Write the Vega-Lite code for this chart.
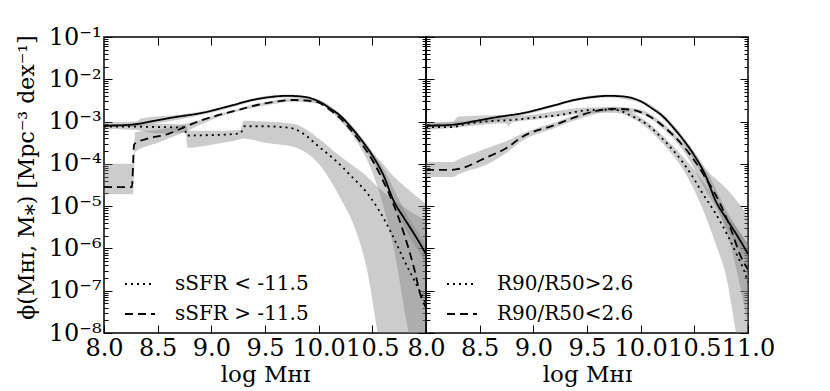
{
  "$schema": "https://vega.github.io/schema/vega-lite/v6.json",
  "background": "white",
  "padding": {"left": 14, "top": 24, "right": 0, "bottom": 0},
  "bounds": "flush",
  "spacing": 0,
  "config": {
    "view": {"stroke": "black", "strokeWidth": 1.5},
    "font": "DejaVu Serif",
    "axis": {"grid": false, "domain": false, "tickColor": "black", "tickWidth": 1, "labelColor": "black", "titleColor": "black", "labelFont": "DejaVu Serif", "titleFont": "DejaVu Serif", "labelFontSize": 24, "titleFontSize": 23, "titleFontWeight": "normal", "labelFlush": false, "labelOverlap": false, "labelBound": false}
  },
  "datasets": {
    "lines": [
      {"p":"L","s":"total","x":8.0,"y":8.04e-4},{"p":"L","s":"total","x":8.15,"y":8.13e-4},{"p":"L","s":"total","x":8.3,"y":8.71e-4},{"p":"L","s":"total","x":8.45,"y":1.02e-3},{"p":"L","s":"total","x":8.65,"y":1.26e-3},{"p":"L","s":"total","x":8.9,"y":1.58e-3},{"p":"L","s":"total","x":9.2,"y":2.45e-3},{"p":"L","s":"total","x":9.4,"y":3.31e-3},{"p":"L","s":"total","x":9.55,"y":3.80e-3},{"p":"L","s":"total","x":9.7,"y":4.07e-3},{"p":"L","s":"total","x":9.85,"y":3.89e-3},{"p":"L","s":"total","x":10.0,"y":3.02e-3},{"p":"L","s":"total","x":10.1,"y":2.09e-3},{"p":"L","s":"total","x":10.2,"y":1.38e-3},{"p":"L","s":"total","x":10.3,"y":7.41e-4},{"p":"L","s":"total","x":10.4,"y":3.63e-4},{"p":"L","s":"total","x":10.5,"y":1.58e-4},{"p":"L","s":"total","x":10.6,"y":5.62e-5},{"p":"L","s":"total","x":10.7,"y":1.32e-5},{"p":"L","s":"total","x":10.8,"y":5.01e-6},{"p":"L","s":"total","x":10.9,"y":2.00e-6},{"p":"L","s":"total","x":11.0,"y":7.41e-7},
      {"p":"L","s":"sSFR < -11.5","x":8.0,"y":7.59e-4},{"p":"L","s":"sSFR < -11.5","x":8.25,"y":7.59e-4},{"p":"L","s":"sSFR < -11.5","x":8.5,"y":7.41e-4},{"p":"L","s":"sSFR < -11.5","x":8.75,"y":7.24e-4},{"p":"L","s":"sSFR < -11.5","x":8.77,"y":4.68e-4},{"p":"L","s":"sSFR < -11.5","x":9.0,"y":4.79e-4},{"p":"L","s":"sSFR < -11.5","x":9.27,"y":5.25e-4},{"p":"L","s":"sSFR < -11.5","x":9.31,"y":7.76e-4},{"p":"L","s":"sSFR < -11.5","x":9.5,"y":7.76e-4},{"p":"L","s":"sSFR < -11.5","x":9.65,"y":7.41e-4},{"p":"L","s":"sSFR < -11.5","x":9.77,"y":6.76e-4},{"p":"L","s":"sSFR < -11.5","x":9.88,"y":4.68e-4},{"p":"L","s":"sSFR < -11.5","x":9.99,"y":2.69e-4},{"p":"L","s":"sSFR < -11.5","x":10.14,"y":1.32e-4},{"p":"L","s":"sSFR < -11.5","x":10.3,"y":5.25e-5},{"p":"L","s":"sSFR < -11.5","x":10.46,"y":1.91e-5},{"p":"L","s":"sSFR < -11.5","x":10.55,"y":8.91e-6},{"p":"L","s":"sSFR < -11.5","x":10.67,"y":2.51e-6},{"p":"L","s":"sSFR < -11.5","x":10.8,"y":5.01e-7},{"p":"L","s":"sSFR < -11.5","x":10.89,"y":1.78e-7},{"p":"L","s":"sSFR < -11.5","x":10.97,"y":7.08e-8},{"p":"L","s":"sSFR < -11.5","x":11.0,"y":5.01e-8},
      {"p":"L","s":"sSFR > -11.5","x":8.0,"y":2.82e-5},{"p":"L","s":"sSFR > -11.5","x":8.26,"y":2.82e-5},{"p":"L","s":"sSFR > -11.5","x":8.28,"y":2.82e-4},{"p":"L","s":"sSFR > -11.5","x":8.3,"y":3.16e-4},{"p":"L","s":"sSFR > -11.5","x":8.37,"y":3.72e-4},{"p":"L","s":"sSFR > -11.5","x":8.6,"y":5.13e-4},{"p":"L","s":"sSFR > -11.5","x":8.75,"y":7.41e-4},{"p":"L","s":"sSFR > -11.5","x":8.9,"y":1.05e-3},{"p":"L","s":"sSFR > -11.5","x":9.2,"y":1.74e-3},{"p":"L","s":"sSFR > -11.5","x":9.5,"y":2.69e-3},{"p":"L","s":"sSFR > -11.5","x":9.77,"y":3.24e-3},{"p":"L","s":"sSFR > -11.5","x":9.99,"y":2.88e-3},{"p":"L","s":"sSFR > -11.5","x":10.09,"y":2.0e-3},{"p":"L","s":"sSFR > -11.5","x":10.2,"y":1.20e-3},{"p":"L","s":"sSFR > -11.5","x":10.3,"y":6.31e-4},{"p":"L","s":"sSFR > -11.5","x":10.39,"y":3.24e-4},{"p":"L","s":"sSFR > -11.5","x":10.52,"y":1.0e-4},{"p":"L","s":"sSFR > -11.5","x":10.6,"y":3.98e-5},{"p":"L","s":"sSFR > -11.5","x":10.69,"y":1.23e-5},{"p":"L","s":"sSFR > -11.5","x":10.8,"y":2.04e-6},{"p":"L","s":"sSFR > -11.5","x":10.89,"y":3.31e-7},{"p":"L","s":"sSFR > -11.5","x":10.95,"y":7.76e-8},{"p":"L","s":"sSFR > -11.5","x":11.0,"y":3.98e-8},
      {"p":"R","s":"total","x":8.0,"y":8.04e-4},{"p":"R","s":"total","x":8.15,"y":8.13e-4},{"p":"R","s":"total","x":8.3,"y":8.71e-4},{"p":"R","s":"total","x":8.45,"y":1.02e-3},{"p":"R","s":"total","x":8.65,"y":1.26e-3},{"p":"R","s":"total","x":8.9,"y":1.58e-3},{"p":"R","s":"total","x":9.2,"y":2.45e-3},{"p":"R","s":"total","x":9.4,"y":3.31e-3},{"p":"R","s":"total","x":9.55,"y":3.80e-3},{"p":"R","s":"total","x":9.7,"y":4.07e-3},{"p":"R","s":"total","x":9.85,"y":3.89e-3},{"p":"R","s":"total","x":10.0,"y":3.02e-3},{"p":"R","s":"total","x":10.1,"y":2.09e-3},{"p":"R","s":"total","x":10.2,"y":1.38e-3},{"p":"R","s":"total","x":10.3,"y":7.41e-4},{"p":"R","s":"total","x":10.4,"y":3.63e-4},{"p":"R","s":"total","x":10.5,"y":1.58e-4},{"p":"R","s":"total","x":10.6,"y":5.62e-5},{"p":"R","s":"total","x":10.7,"y":1.32e-5},{"p":"R","s":"total","x":10.8,"y":5.01e-6},{"p":"R","s":"total","x":10.9,"y":2.00e-6},{"p":"R","s":"total","x":11.0,"y":7.41e-7},
      {"p":"R","s":"R90/R50>2.6","x":8.0,"y":7.41e-4},{"p":"R","s":"R90/R50>2.6","x":8.25,"y":7.41e-4},{"p":"R","s":"R90/R50>2.6","x":8.35,"y":8.51e-4},{"p":"R","s":"R90/R50>2.6","x":8.58,"y":1.02e-3},{"p":"R","s":"R90/R50>2.6","x":8.76,"y":1.07e-3},{"p":"R","s":"R90/R50>2.6","x":9.04,"y":1.26e-3},{"p":"R","s":"R90/R50>2.6","x":9.26,"y":1.45e-3},{"p":"R","s":"R90/R50>2.6","x":9.44,"y":1.78e-3},{"p":"R","s":"R90/R50>2.6","x":9.51,"y":1.86e-3},{"p":"R","s":"R90/R50>2.6","x":9.75,"y":1.91e-3},{"p":"R","s":"R90/R50>2.6","x":9.91,"y":1.38e-3},{"p":"R","s":"R90/R50>2.6","x":10.07,"y":8.13e-4},{"p":"R","s":"R90/R50>2.6","x":10.22,"y":3.55e-4},{"p":"R","s":"R90/R50>2.6","x":10.38,"y":1.20e-4},{"p":"R","s":"R90/R50>2.6","x":10.5,"y":4.27e-5},{"p":"R","s":"R90/R50>2.6","x":10.57,"y":2.14e-5},{"p":"R","s":"R90/R50>2.6","x":10.69,"y":7.24e-6},{"p":"R","s":"R90/R50>2.6","x":10.81,"y":2.04e-6},{"p":"R","s":"R90/R50>2.6","x":10.9,"y":6.76e-7},{"p":"R","s":"R90/R50>2.6","x":10.96,"y":3.16e-7},{"p":"R","s":"R90/R50>2.6","x":11.0,"y":1.58e-7},
      {"p":"R","s":"R90/R50<2.6","x":8.0,"y":7.24e-5},{"p":"R","s":"R90/R50<2.6","x":8.24,"y":7.24e-5},{"p":"R","s":"R90/R50<2.6","x":8.58,"y":1.48e-4},{"p":"R","s":"R90/R50<2.6","x":8.76,"y":2.45e-4},{"p":"R","s":"R90/R50<2.6","x":8.89,"y":4.27e-4},{"p":"R","s":"R90/R50<2.6","x":9.19,"y":8.13e-4},{"p":"R","s":"R90/R50<2.6","x":9.44,"y":1.41e-3},{"p":"R","s":"R90/R50<2.6","x":9.6,"y":1.82e-3},{"p":"R","s":"R90/R50<2.6","x":9.75,"y":2.0e-3},{"p":"R","s":"R90/R50<2.6","x":9.91,"y":1.91e-3},{"p":"R","s":"R90/R50<2.6","x":10.07,"y":1.38e-3},{"p":"R","s":"R90/R50<2.6","x":10.22,"y":7.41e-4},{"p":"R","s":"R90/R50<2.6","x":10.38,"y":2.95e-4},{"p":"R","s":"R90/R50<2.6","x":10.5,"y":1.20e-4},{"p":"R","s":"R90/R50<2.6","x":10.6,"y":4.90e-5},{"p":"R","s":"R90/R50<2.6","x":10.75,"y":1.02e-5},{"p":"R","s":"R90/R50<2.6","x":10.84,"y":2.88e-6},{"p":"R","s":"R90/R50<2.6","x":10.93,"y":6.76e-7},{"p":"R","s":"R90/R50<2.6","x":11.0,"y":3.16e-7}
    ],
    "bands": [
      {"p":"L","s":"total","x":8.0,"lo":7.59e-4,"hi":9.55e-4},{"p":"L","s":"total","x":8.3,"lo":7.59e-4,"hi":1.0e-3},{"p":"L","s":"total","x":8.35,"lo":7.94e-4,"hi":1.20e-3},{"p":"L","s":"total","x":8.7,"lo":1.12e-3,"hi":1.45e-3},{"p":"L","s":"total","x":9.0,"lo":1.62e-3,"hi":1.91e-3},{"p":"L","s":"total","x":9.5,"lo":3.39e-3,"hi":3.98e-3},{"p":"L","s":"total","x":9.7,"lo":3.72e-3,"hi":4.37e-3},{"p":"L","s":"total","x":10.0,"lo":2.75e-3,"hi":3.24e-3},{"p":"L","s":"total","x":10.2,"lo":1.20e-3,"hi":1.55e-3},{"p":"L","s":"total","x":10.4,"lo":3.02e-4,"hi":4.27e-4},{"p":"L","s":"total","x":10.6,"lo":3.98e-5,"hi":7.94e-5},{"p":"L","s":"total","x":10.8,"lo":3.16e-6,"hi":7.94e-6},{"p":"L","s":"total","x":11.0,"lo":4.47e-7,"hi":1.26e-6},
      {"p":"L","s":"sSFR < -11.5","x":8.0,"lo":6.76e-4,"hi":8.51e-4},{"p":"L","s":"sSFR < -11.5","x":8.3,"lo":6.31e-4,"hi":8.91e-4},{"p":"L","s":"sSFR < -11.5","x":8.5,"lo":5.25e-4,"hi":8.91e-4},{"p":"L","s":"sSFR < -11.5","x":8.76,"lo":5.50e-4,"hi":8.51e-4},{"p":"L","s":"sSFR < -11.5","x":8.78,"lo":2.40e-4,"hi":6.03e-4},{"p":"L","s":"sSFR < -11.5","x":9.0,"lo":2.82e-4,"hi":6.03e-4},{"p":"L","s":"sSFR < -11.5","x":9.27,"lo":3.80e-4,"hi":6.31e-4},{"p":"L","s":"sSFR < -11.5","x":9.3,"lo":3.98e-4,"hi":1.05e-3},{"p":"L","s":"sSFR < -11.5","x":9.5,"lo":3.16e-4,"hi":1.0e-3},{"p":"L","s":"sSFR < -11.5","x":9.77,"lo":2.51e-4,"hi":8.71e-4},{"p":"L","s":"sSFR < -11.5","x":10.0,"lo":1.0e-4,"hi":3.98e-4},{"p":"L","s":"sSFR < -11.5","x":10.2,"lo":1.58e-5,"hi":1.51e-4},{"p":"L","s":"sSFR < -11.5","x":10.35,"lo":2.51e-6,"hi":7.94e-5},{"p":"L","s":"sSFR < -11.5","x":10.45,"lo":3.16e-7,"hi":5.01e-5},{"p":"L","s":"sSFR < -11.5","x":10.55,"lo":1.0e-8,"hi":2.82e-5},{"p":"L","s":"sSFR < -11.5","x":10.62,"lo":1.0e-9,"hi":2.0e-5},{"p":"L","s":"sSFR < -11.5","x":11.0,"lo":3.16e-10,"hi":4.47e-6},
      {"p":"L","s":"sSFR > -11.5","x":8.0,"lo":1.91e-5,"hi":1.0e-4},{"p":"L","s":"sSFR > -11.5","x":8.27,"lo":1.91e-5,"hi":1.0e-4},{"p":"L","s":"sSFR > -11.5","x":8.29,"lo":1.91e-4,"hi":5.62e-4},{"p":"L","s":"sSFR > -11.5","x":8.5,"lo":3.16e-4,"hi":6.31e-4},{"p":"L","s":"sSFR > -11.5","x":8.75,"lo":5.62e-4,"hi":8.71e-4},{"p":"L","s":"sSFR > -11.5","x":9.0,"lo":1.10e-3,"hi":1.32e-3},{"p":"L","s":"sSFR > -11.5","x":9.5,"lo":2.40e-3,"hi":2.88e-3},{"p":"L","s":"sSFR > -11.5","x":9.77,"lo":2.95e-3,"hi":3.55e-3},{"p":"L","s":"sSFR > -11.5","x":10.0,"lo":2.63e-3,"hi":3.16e-3},{"p":"L","s":"sSFR > -11.5","x":10.2,"lo":1.05e-3,"hi":1.32e-3},{"p":"L","s":"sSFR > -11.5","x":10.3,"lo":5.37e-4,"hi":7.59e-4},{"p":"L","s":"sSFR > -11.5","x":10.5,"lo":6.31e-5,"hi":1.78e-4},{"p":"L","s":"sSFR > -11.5","x":10.58,"lo":1.58e-5,"hi":1.12e-4},{"p":"L","s":"sSFR > -11.5","x":10.7,"lo":1.0e-6,"hi":5.01e-5},{"p":"L","s":"sSFR > -11.5","x":10.84,"lo":1.0e-8,"hi":2.40e-5},{"p":"L","s":"sSFR > -11.5","x":11.0,"lo":6.31e-10,"hi":1.12e-5},
      {"p":"R","s":"total","x":8.0,"lo":7.59e-4,"hi":9.55e-4},{"p":"R","s":"total","x":8.25,"lo":7.59e-4,"hi":1.0e-3},{"p":"R","s":"total","x":8.3,"lo":7.94e-4,"hi":1.32e-3},{"p":"R","s":"total","x":8.75,"lo":1.12e-3,"hi":1.45e-3},{"p":"R","s":"total","x":9.0,"lo":1.62e-3,"hi":1.91e-3},{"p":"R","s":"total","x":9.5,"lo":3.39e-3,"hi":3.98e-3},{"p":"R","s":"total","x":9.7,"lo":3.72e-3,"hi":4.37e-3},{"p":"R","s":"total","x":10.0,"lo":2.75e-3,"hi":3.24e-3},{"p":"R","s":"total","x":10.2,"lo":1.20e-3,"hi":1.55e-3},{"p":"R","s":"total","x":10.4,"lo":3.02e-4,"hi":4.27e-4},{"p":"R","s":"total","x":10.6,"lo":3.98e-5,"hi":7.94e-5},{"p":"R","s":"total","x":10.8,"lo":3.16e-6,"hi":7.94e-6},{"p":"R","s":"total","x":11.0,"lo":4.47e-7,"hi":1.26e-6},
      {"p":"R","s":"R90/R50>2.6","x":8.0,"lo":6.31e-4,"hi":8.71e-4},{"p":"R","s":"R90/R50>2.6","x":8.3,"lo":7.24e-4,"hi":1.0e-3},{"p":"R","s":"R90/R50>2.6","x":8.6,"lo":8.71e-4,"hi":1.17e-3},{"p":"R","s":"R90/R50>2.6","x":8.74,"lo":9.12e-4,"hi":1.26e-3},{"p":"R","s":"R90/R50>2.6","x":8.77,"lo":7.94e-4,"hi":1.20e-3},{"p":"R","s":"R90/R50>2.6","x":8.8,"lo":9.55e-4,"hi":1.26e-3},{"p":"R","s":"R90/R50>2.6","x":9.0,"lo":1.10e-3,"hi":1.45e-3},{"p":"R","s":"R90/R50>2.6","x":9.5,"lo":1.58e-3,"hi":2.14e-3},{"p":"R","s":"R90/R50>2.6","x":9.75,"lo":1.62e-3,"hi":2.19e-3},{"p":"R","s":"R90/R50>2.6","x":10.0,"lo":9.12e-4,"hi":1.26e-3},{"p":"R","s":"R90/R50>2.6","x":10.2,"lo":3.16e-4,"hi":4.79e-4},{"p":"R","s":"R90/R50>2.6","x":10.4,"lo":7.08e-5,"hi":1.41e-4},{"p":"R","s":"R90/R50>2.6","x":10.55,"lo":1.26e-5,"hi":5.01e-5},{"p":"R","s":"R90/R50>2.6","x":10.7,"lo":1.26e-6,"hi":1.41e-5},{"p":"R","s":"R90/R50>2.6","x":10.8,"lo":2.0e-7,"hi":6.31e-6},{"p":"R","s":"R90/R50>2.6","x":10.89,"lo":1.0e-8,"hi":3.16e-6},{"p":"R","s":"R90/R50>2.6","x":11.0,"lo":6.31e-10,"hi":1.26e-6},
      {"p":"R","s":"R90/R50<2.6","x":8.0,"lo":4.90e-5,"hi":1.10e-4},{"p":"R","s":"R90/R50<2.6","x":8.25,"lo":4.90e-5,"hi":1.10e-4},{"p":"R","s":"R90/R50<2.6","x":8.3,"lo":5.62e-5,"hi":1.26e-4},{"p":"R","s":"R90/R50<2.6","x":8.58,"lo":1.0e-4,"hi":2.40e-4},{"p":"R","s":"R90/R50<2.6","x":8.76,"lo":1.91e-4,"hi":3.55e-4},{"p":"R","s":"R90/R50<2.6","x":8.9,"lo":3.55e-4,"hi":5.25e-4},{"p":"R","s":"R90/R50<2.6","x":9.2,"lo":7.08e-4,"hi":9.55e-4},{"p":"R","s":"R90/R50<2.6","x":9.5,"lo":1.32e-3,"hi":1.70e-3},{"p":"R","s":"R90/R50<2.6","x":9.75,"lo":1.78e-3,"hi":2.24e-3},{"p":"R","s":"R90/R50<2.6","x":10.0,"lo":1.51e-3,"hi":1.91e-3},{"p":"R","s":"R90/R50<2.6","x":10.2,"lo":7.08e-4,"hi":9.55e-4},{"p":"R","s":"R90/R50<2.6","x":10.4,"lo":2.0e-4,"hi":3.16e-4},{"p":"R","s":"R90/R50<2.6","x":10.6,"lo":2.51e-5,"hi":7.59e-5},{"p":"R","s":"R90/R50<2.6","x":10.8,"lo":2.51e-6,"hi":2.57e-5},{"p":"R","s":"R90/R50<2.6","x":11.0,"lo":1.58e-8,"hi":6.03e-6}
    ]
  },
  "resolve": {"scale": {"strokeDash": "independent"}, "legend": {"strokeDash": "independent"}},
  "hconcat": [
    {
      "width": 322, "height": 296,
      "layer": [
        {
          "data": {"name": "bands"},
          "transform": [{"filter": "datum.p === 'L'"}],
          "mark": {"type": "area", "clip": true, "interpolate": "monotone", "fill": "#7f7f7f", "opacity": 0.4},
          "encoding": {
            "x": {"field": "x", "type": "quantitative", "scale": {"domain": [8, 11], "nice": false, "zero": false},
              "axis": {"orient": "bottom", "values": [8, 8.5, 9, 9.5, 10, 10.5], "format": ".1f", "tickSize": -8, "labelPadding": 11, "title": "log Mʜɪ", "titlePadding": 3}},
            "y": {"field": "lo", "type": "quantitative", "scale": {"type": "log", "domain": [1e-8, 0.1], "nice": false},
              "axis": {"orient": "left", "values": [1e-8,2e-8,3e-8,4e-8,5e-8,6e-8,7e-8,8e-8,9e-8,1e-7,2e-7,3e-7,4e-7,5e-7,6e-7,7e-7,8e-7,9e-7,1e-6,2e-6,3e-6,4e-6,5e-6,6e-6,7e-6,8e-6,9e-6,1e-5,2e-5,3e-5,4e-5,5e-5,6e-5,7e-5,8e-5,9e-5,1e-4,2e-4,3e-4,4e-4,5e-4,6e-4,7e-4,8e-4,9e-4,1e-3,2e-3,3e-3,4e-3,5e-3,6e-3,7e-3,8e-3,9e-3,1e-2,2e-2,3e-2,4e-2,5e-2,6e-2,7e-2,8e-2,9e-2,1e-1],
                "labelExpr": "abs(log(datum.value)/LN10 - round(log(datum.value)/LN10)) < 0.01 ? '10' + ['⁰','⁻¹','⁻²','⁻³','⁻⁴','⁻⁵','⁻⁶','⁻⁷','⁻⁸'][-round(log(datum.value)/LN10)] : ''",
                "tickSize": {"condition": {"test": "abs(log(datum.value)/LN10 - round(log(datum.value)/LN10)) < 0.01", "value": -8}, "value": -4},
                "labelPadding": 11,
                "title": "ϕ(Mʜɪ, M⁎) [Mpc⁻³ dex⁻¹]", "titleFontSize": 22, "titlePadding": 10, "titleY": 140}},
            "y2": {"field": "hi"},
            "detail": {"field": "s"}
          }
        },
        {
          "data": {"name": "lines"},
          "transform": [{"filter": "datum.p === 'L'"}],
          "mark": {"type": "line", "clip": true, "interpolate": "monotone", "color": "black", "strokeWidth": 1.8},
          "encoding": {
            "x": {"field": "x", "type": "quantitative", "scale": {"domain": [8, 11], "nice": false, "zero": false},
              "axis": {"orient": "top", "values": [8.5, 9, 9.5, 10, 10.5], "labels": false, "tickSize": -8, "title": null}},
            "y": {"field": "y", "type": "quantitative", "scale": {"type": "log", "domain": [1e-8, 0.1], "nice": false},
              "axis": {"orient": "right", "values": [1e-8,2e-8,3e-8,4e-8,5e-8,6e-8,7e-8,8e-8,9e-8,1e-7,2e-7,3e-7,4e-7,5e-7,6e-7,7e-7,8e-7,9e-7,1e-6,2e-6,3e-6,4e-6,5e-6,6e-6,7e-6,8e-6,9e-6,1e-5,2e-5,3e-5,4e-5,5e-5,6e-5,7e-5,8e-5,9e-5,1e-4,2e-4,3e-4,4e-4,5e-4,6e-4,7e-4,8e-4,9e-4,1e-3,2e-3,3e-3,4e-3,5e-3,6e-3,7e-3,8e-3,9e-3,1e-2,2e-2,3e-2,4e-2,5e-2,6e-2,7e-2,8e-2,9e-2,1e-1],
                "labels": false, "title": null,
                "tickSize": {"condition": {"test": "abs(log(datum.value)/LN10 - round(log(datum.value)/LN10)) < 0.01", "value": -8}, "value": -4}}},
            "strokeDash": {"field": "s", "type": "nominal",
              "scale": {"domain": ["total", "sSFR < -11.5", "sSFR > -11.5"], "range": [[1, 0], [2, 4], [8, 5]]},
              "legend": {"title": null, "values": ["sSFR < -11.5", "sSFR > -11.5"], "orient": "none", "legendX": 20, "legendY": 231, "symbolType": "stroke", "symbolSize": 900, "symbolStrokeWidth": 1.8, "symbolStrokeColor": "black", "labelFont": "DejaVu Serif", "labelFontSize": 20, "labelColor": "black", "labelOffset": 19, "rowPadding": 4, "padding": 0}}
          }
        }
      ],
      "resolve": {"scale": {"x": "independent", "y": "independent"}}
    },
    {
      "width": 322, "height": 296,
      "layer": [
        {
          "data": {"name": "bands"},
          "transform": [{"filter": "datum.p === 'R'"}],
          "mark": {"type": "area", "clip": true, "interpolate": "monotone", "fill": "#7f7f7f", "opacity": 0.4},
          "encoding": {
            "x": {"field": "x", "type": "quantitative", "scale": {"domain": [8, 11], "nice": false, "zero": false},
              "axis": {"orient": "bottom", "values": [8, 8.5, 9, 9.5, 10, 10.5, 11], "format": ".1f", "tickSize": -8, "labelPadding": 11, "title": "log Mʜɪ", "titlePadding": 3}},
            "y": {"field": "lo", "type": "quantitative", "scale": {"type": "log", "domain": [1e-8, 0.1], "nice": false},
              "axis": {"orient": "left", "values": [1e-8,2e-8,3e-8,4e-8,5e-8,6e-8,7e-8,8e-8,9e-8,1e-7,2e-7,3e-7,4e-7,5e-7,6e-7,7e-7,8e-7,9e-7,1e-6,2e-6,3e-6,4e-6,5e-6,6e-6,7e-6,8e-6,9e-6,1e-5,2e-5,3e-5,4e-5,5e-5,6e-5,7e-5,8e-5,9e-5,1e-4,2e-4,3e-4,4e-4,5e-4,6e-4,7e-4,8e-4,9e-4,1e-3,2e-3,3e-3,4e-3,5e-3,6e-3,7e-3,8e-3,9e-3,1e-2,2e-2,3e-2,4e-2,5e-2,6e-2,7e-2,8e-2,9e-2,1e-1],
                "labels": false, "title": null,
                "tickSize": {"condition": {"test": "abs(log(datum.value)/LN10 - round(log(datum.value)/LN10)) < 0.01", "value": -8}, "value": -4}}},
            "y2": {"field": "hi"},
            "detail": {"field": "s"}
          }
        },
        {
          "data": {"name": "lines"},
          "transform": [{"filter": "datum.p === 'R'"}],
          "mark": {"type": "line", "clip": true, "interpolate": "monotone", "color": "black", "strokeWidth": 1.8},
          "encoding": {
            "x": {"field": "x", "type": "quantitative", "scale": {"domain": [8, 11], "nice": false, "zero": false},
              "axis": {"orient": "top", "values": [8.5, 9, 9.5, 10, 10.5], "labels": false, "tickSize": -8, "title": null}},
            "y": {"field": "y", "type": "quantitative", "scale": {"type": "log", "domain": [1e-8, 0.1], "nice": false},
              "axis": {"orient": "right", "values": [1e-8,2e-8,3e-8,4e-8,5e-8,6e-8,7e-8,8e-8,9e-8,1e-7,2e-7,3e-7,4e-7,5e-7,6e-7,7e-7,8e-7,9e-7,1e-6,2e-6,3e-6,4e-6,5e-6,6e-6,7e-6,8e-6,9e-6,1e-5,2e-5,3e-5,4e-5,5e-5,6e-5,7e-5,8e-5,9e-5,1e-4,2e-4,3e-4,4e-4,5e-4,6e-4,7e-4,8e-4,9e-4,1e-3,2e-3,3e-3,4e-3,5e-3,6e-3,7e-3,8e-3,9e-3,1e-2,2e-2,3e-2,4e-2,5e-2,6e-2,7e-2,8e-2,9e-2,1e-1],
                "labels": false, "title": null,
                "tickSize": {"condition": {"test": "abs(log(datum.value)/LN10 - round(log(datum.value)/LN10)) < 0.01", "value": -8}, "value": -4}}},
            "strokeDash": {"field": "s", "type": "nominal",
              "scale": {"domain": ["total", "R90/R50>2.6", "R90/R50<2.6"], "range": [[1, 0], [2, 4], [8, 5]]},
              "legend": {"title": null, "values": ["R90/R50>2.6", "R90/R50<2.6"], "orient": "none", "legendX": 20, "legendY": 231, "symbolType": "stroke", "symbolSize": 900, "symbolStrokeWidth": 1.8, "symbolStrokeColor": "black", "labelFont": "DejaVu Serif", "labelFontSize": 20, "labelColor": "black", "labelOffset": 19, "rowPadding": 4, "padding": 0}}
          }
        }
      ],
      "resolve": {"scale": {"x": "independent", "y": "independent"}}
    }
  ]
}
